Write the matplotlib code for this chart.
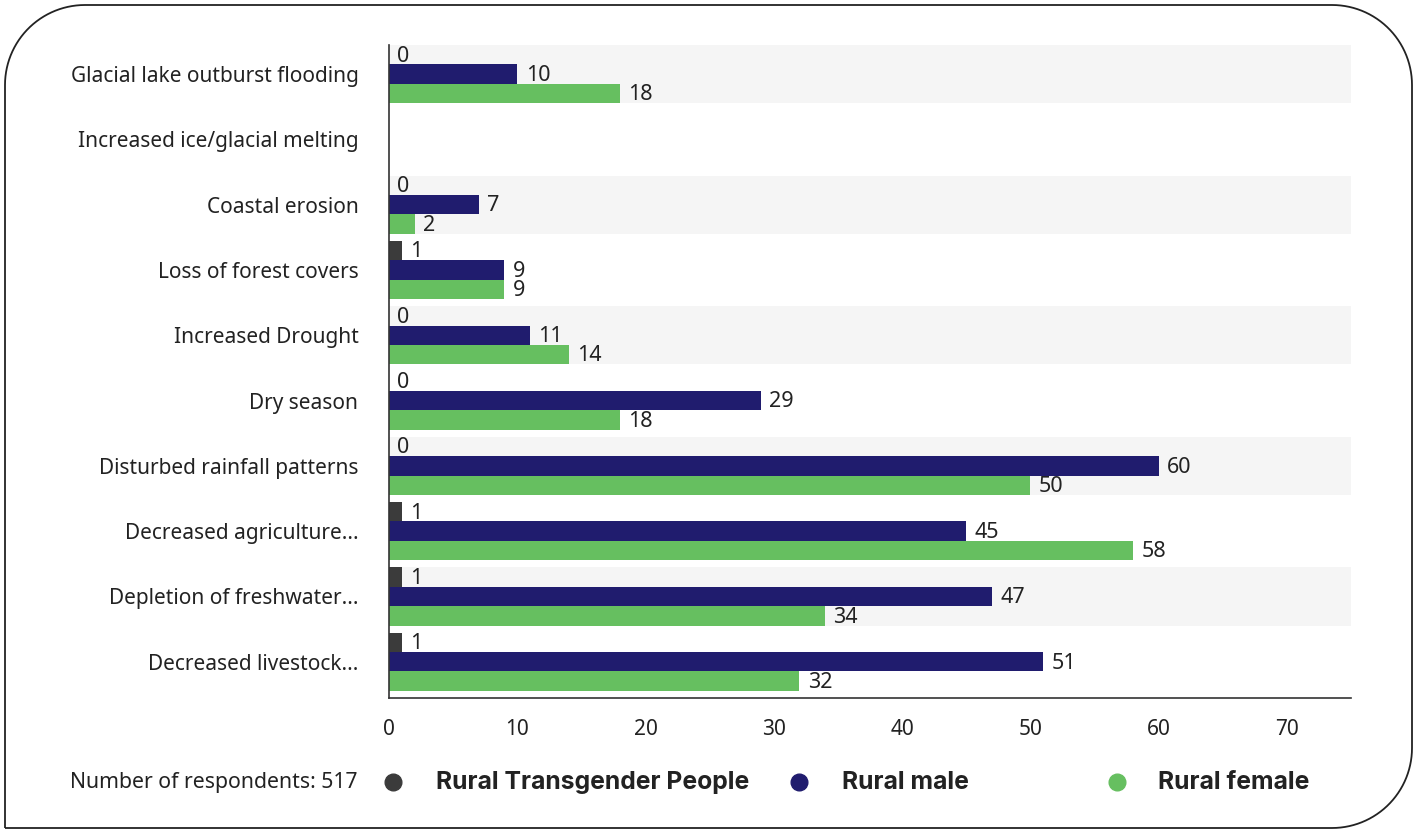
import numpy as np
import matplotlib
matplotlib.use("Agg")
import matplotlib.pyplot as plt
from matplotlib.path import Path
from matplotlib.patches import PathPatch
from matplotlib.transforms import Affine2D

plt.rcParams["font.family"] = ["Noto Sans", "DejaVu Sans"]

categories = [
    "Glacial lake outburst flooding",
    "Increased ice/glacial melting",
    "Coastal erosion",
    "Loss of forest covers",
    "Increased Drought",
    "Dry season",
    "Disturbed rainfall patterns",
    "Decreased agriculture...",
    "Depletion of freshwater...",
    "Decreased livestock...",
]
transgender = [0, None, 0, 1, 0, 0, 0, 1, 1, 1]
male = [10, None, 7, 9, 11, 29, 60, 45, 47, 51]
female = [18, None, 2, 9, 14, 18, 50, 58, 34, 32]

series_names = ["Rural Transgender People", "Rural male", "Rural female"]
colors = ["#3b3b3b", "#201c6e", "#66bf60"]
respondents = 517

W, H = 1415, 830
fig = plt.figure(figsize=(W / 100, H / 100), dpi=100)
ax = fig.add_axes([389 / W, 1 - 698 / H, (1351 - 389) / W, 653 / H])

n = len(categories)
bar_h = 0.297
y0 = np.arange(n) - 0.5

# shaded bands behind every other group
for i in range(0, n, 2):
    ax.axhspan(i - 0.5, i - 0.5 + 3 * bar_h, color="#f5f5f5", zorder=0, lw=0)

for k, (vals, c) in enumerate(zip([transgender, male, female], colors)):
    for i, v in enumerate(vals):
        if v is None:
            continue
        yc = y0[i] + bar_h * (k + 0.5)
        ax.barh(yc, v, height=bar_h, color=c, zorder=2)
        ax.text(v + 0.65, yc + 0.02, str(v), va="center", ha="left", fontsize=15.5,
                color="#222222", zorder=3)

ax.set_xlim(0, 75)
ax.set_ylim(n - 0.5, -0.5)
ax.set_xticks(range(0, 71, 10))
ax.set_yticks(y0 + 1.5 * bar_h)
ax.set_yticklabels(categories)
ax.tick_params(axis="both", length=0, labelsize=15, labelcolor="#222222")
ax.tick_params(axis="x", pad=15)
ax.tick_params(axis="y", pad=22)
for s in ["top", "right"]:
    ax.spines[s].set_visible(False)
for s in ["left", "bottom"]:
    ax.spines[s].set_color("#333333")
    ax.spines[s].set_linewidth(1.2)

# legend row
fy = 1 - 782 / H
fig.text(357 / W, fy, f"Number of respondents: {respondents}", ha="right", va="center",
         fontsize=15.3, color="#222222")
for name, c, mx, tx in zip(series_names, colors, [393, 799, 1117], [436, 842, 1158]):
    fig.add_artist(plt.Line2D([mx / W], [fy], marker="o", markersize=12, color=c,
                              transform=fig.transFigure))
    fig.text(tx / W, fy, name, ha="left", va="center", fontsize=17.8,
             fontweight="bold", family=["Inter", "DejaVu Sans"], color="#222222")

# frame with three rounded corners
r = 80
L, R, T, B = 5, 1412, 5, 828
def arc(cx, cy, a0, a1):
    t = np.radians(np.linspace(a0, a1, 30))
    return np.column_stack([cx + r * np.cos(t), cy + r * np.sin(t)])
pts = np.vstack([
    [[L, B]],
    arc(L + r, T + r, 180, 270),
    arc(R - r, T + r, 270, 360),
    arc(R - r, B - r, 0, 90),
    [[L, B]],
])
tr = Affine2D().scale(1 / W, -1 / H).translate(0, 1) + fig.transFigure
fig.add_artist(PathPatch(Path(pts), fill=False, lw=1.3, edgecolor="#222222", transform=tr))

fig.savefig("out.png", dpi=100)
